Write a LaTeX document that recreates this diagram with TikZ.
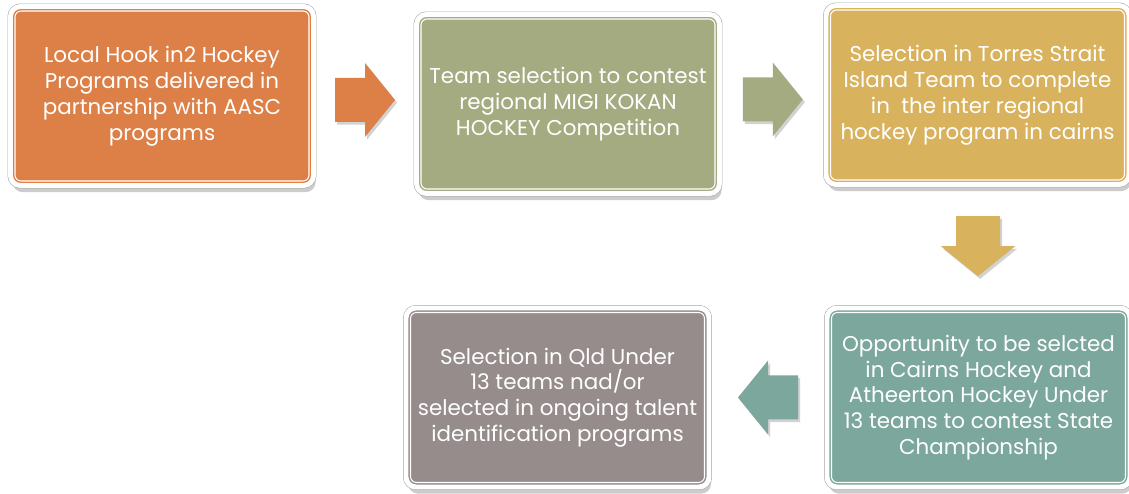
\documentclass[tikz,border=0pt]{standalone}
\usepackage{fontspec}
\setmainfont{Poppins}
\usetikzlibrary{calc,shadows}
\definecolor{hookorange}{RGB}{221,128,71}
\definecolor{migiolive}{RGB}{165,171,129}
\definecolor{straitgold}{RGB}{216,178,92}
\definecolor{cairnsteal}{RGB}{123,167,157}
\definecolor{qldtaupe}{RGB}{150,140,140}

\tikzset{
  stepbox/.style={rounded corners=0.2cm, minimum width=6.06cm, minimum height=3.58cm,
    inner sep=2pt, align=center, text=white, font=\fontsize{12.2}{14.7}\selectfont,
    drop shadow={shadow xshift=1.2pt, shadow yshift=-3.8pt, opacity=0.4},
    preaction={draw=black!35, line width=3.4pt},
    draw=white, line width=2.8pt,
    path picture={\draw[white, line width=0.6pt, rounded corners=0.12cm]
      ([shift={(0.09,0.09)}]path picture bounding box.south west) rectangle
      ([shift={(-0.09,-0.09)}]path picture bounding box.north east);}},
  flowarrow/.pic={\fill[pic actions, drop shadow={shadow xshift=1.2pt, shadow yshift=-1.5pt, opacity=0.35}]
    (-0.6,-0.44) -- (0,-0.44) -- (0,-0.74) -- (0.6,0) -- (0,0.74) -- (0,0.44) -- (-0.6,0.44) -- cycle;}
}

\begin{document}
\begin{tikzpicture}
    \fill[white] (0,0) rectangle (22.58,9.88);
    \useasboundingbox (0,0) rectangle (22.58,9.88);

    % Steps of the pathway
    \node[stepbox, fill=hookorange] (hook) at (3.24,7.96)
        {Local Hook in2 Hockey\\Programs delivered in\\partnership with AASC\\programs};
    \node[stepbox, fill=migiolive] (migi) at (11.36,7.80)
        {Team selection to contest\\regional MIGI KOKAN\\HOCKEY Competition};
    \node[stepbox, fill=straitgold] (strait) at (19.55,7.98)
        {Selection in Torres Strait\\Island Team to complete\\in\ \ the inter regional\\hockey program in cairns};
    \node[stepbox, fill=cairnsteal] (cairns) at (19.57,1.93)
        {Opportunity to be selcted\\in Cairns Hockey and\\Atheerton Hockey Under\\13 teams to contest State\\Championship};
    \node[stepbox, fill=qldtaupe] (qld) at (11.15,1.93)
        {Selection in Qld Under\\13 teams nad/or\\selected in ongoing talent\\identification programs};

    % Block arrows between steps
    \pic[fill=hookorange] at ($(hook.east)!0.5!(migi.west)$) {flowarrow};
    \pic[fill=migiolive] at ($(migi.east)!0.5!(strait.west)$) {flowarrow};
    \pic[fill=straitgold, rotate=-90] at ($(strait.south)!0.5!(cairns.north)$) {flowarrow};
    \pic[fill=cairnsteal, rotate=180] at ($(cairns.west)!0.5!(qld.east)$) {flowarrow};
\end{tikzpicture}
\end{document}
